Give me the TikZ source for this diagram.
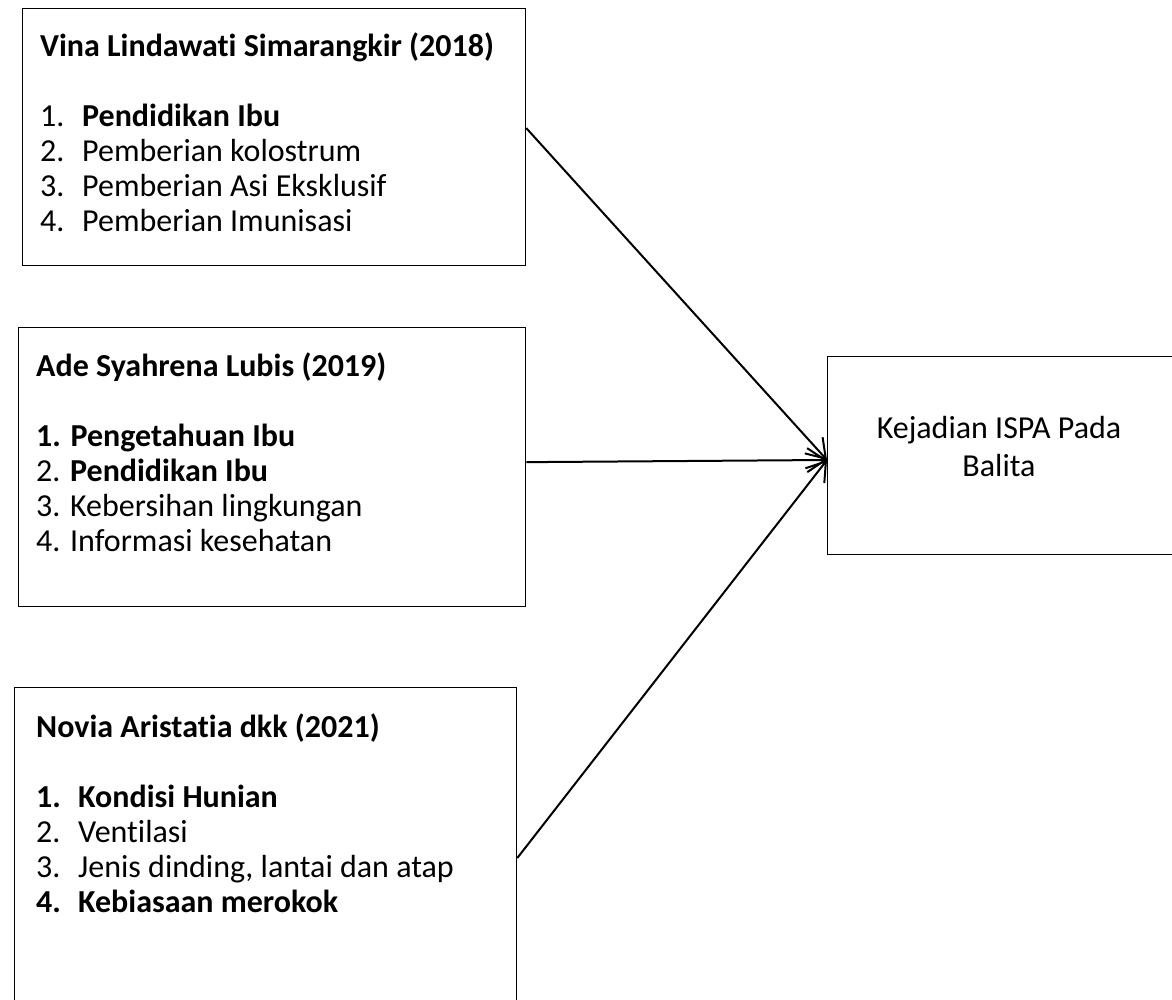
\documentclass[tikz,border=0pt]{standalone}
\usepackage{fontspec}
\setmainfont{Carlito}[Ligatures=NoCommon]
\usetikzlibrary{arrows.meta,positioning}

\newcommand{\itemno}[1]{\makebox[42pt][l]{#1}}
\newcommand{\firstline}{\rule{0pt}{27pt}}

\begin{document}
\begin{tikzpicture}[x=1pt, y=-1pt,
    studybox/.style={draw, line width=1.3pt, anchor=north west, inner sep=0pt},
    listtext/.style={anchor=north west, align=left, inner sep=0pt,
        font=\fontsize{32pt}{35pt}\selectfont},
    arr/.style={line width=2pt, -{Straight Barb[length=18pt, width=24pt, line width=2pt]}}]
    \useasboundingbox (0,0) rectangle (1172,1000);

    % Study boxes
    \node[studybox, minimum width=503pt, minimum height=257pt] (vina) at (22,8) {};
    \node[listtext] (vinatext) at (40,29) {\firstline\textbf{Vina Lindawati Simarangkir (2018)}\\[35pt]
        \itemno{1.}\textbf{Pendidikan Ibu}\\
        \itemno{2.}Pemberian kolostrum\\
        \itemno{3.}Pemberian Asi Eksklusif\\
        \itemno{4.}Pemberian Imunisasi};

    \node[studybox, minimum width=507pt, minimum height=279pt] (ade) at (18,327) {};
    \node[listtext] (adetext) at (36,349) {\firstline\textbf{Ade Syahrena Lubis (2019)}\\[35pt]
        \textbf{1. Pengetahuan Ibu}\\
        2. \textbf{Pendidikan Ibu}\\
        3. Kebersihan lingkungan\\
        4. Informasi kesehatan};

    \node[studybox, minimum width=502pt, minimum height=330pt] (novia) at (14,687) {};
    \node[listtext] (noviatext) at (36,710) {\firstline\textbf{Novia Aristatia dkk (2021)}\\[35pt]
        \textbf{\itemno{1.}Kondisi Hunian}\\
        \itemno{2.}Ventilasi\\
        \itemno{3.}Jenis dinding, lantai dan atap\\
        \textbf{\itemno{4.}Kebiasaan merokok}};

    % Outcome box
    \node[studybox, minimum width=350pt, minimum height=198pt] (ispa) at (827,356) {};
    \node[align=center, inner sep=0pt, font=\fontsize{32pt}{38pt}\selectfont]
        (ispatext) at (999,447) {Kejadian ISPA Pada\\Balita};

    % Arrows
    \coordinate (tip) at (827,460);
    \draw[arr] ([yshift=9pt]vina.east) -- (tip);
    \draw[arr] ([yshift=5pt]ade.east) -- (tip);
    \draw[arr] ([yshift=-171pt]novia.north east) -- (tip);
\end{tikzpicture}
\end{document}
